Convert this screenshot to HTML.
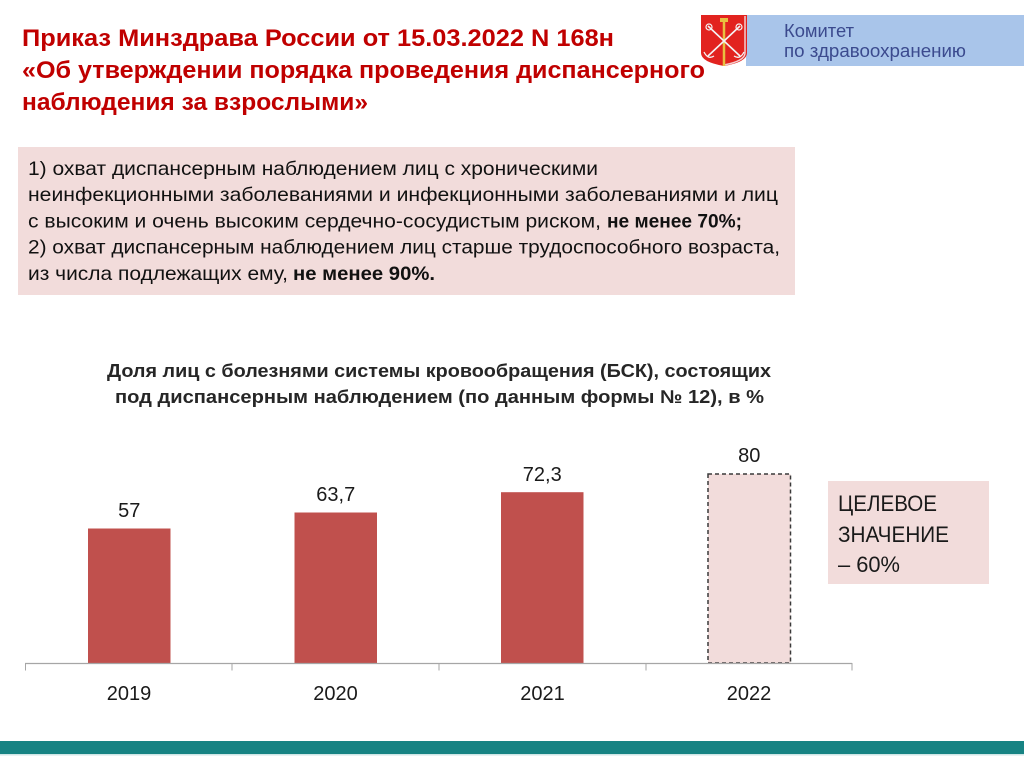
<!DOCTYPE html>
<html>
<head>
<meta charset="utf-8">
<style>
  html, body { margin: 0; padding: 0; background: #ffffff; }
  svg { display: block; }
  text { font-family: "Liberation Sans", "Noto Sans CJK SC", sans-serif; }
</style>
</head>
<body>
<svg width="1024" height="767" viewBox="0 0 1024 767" xmlns="http://www.w3.org/2000/svg">
  <rect x="0" y="0" width="1024" height="767" fill="#ffffff"/>

  <!-- Header banner -->
  <rect x="746" y="15" width="278" height="51" fill="#a9c5ea"/>
  <!-- Emblem -->
  <path d="M701,15 H747 V53 Q747,62 724,66 Q701,62 701,53 Z" fill="#e2231f"/>
  <path d="M745,16 V53 Q745,61 724,65" fill="none" stroke="#f3d0d0" stroke-width="1.5"/>
  <line x1="724" y1="19" x2="724" y2="66" stroke="#e8c040" stroke-width="2.5"/>
  <rect x="720" y="18" width="8" height="4" fill="#e8c040"/>
  <line x1="708" y1="26" x2="740" y2="56" stroke="#f4f4f4" stroke-width="1.6"/>
  <line x1="740" y1="26" x2="708" y2="56" stroke="#f4f4f4" stroke-width="1.6"/>
  <circle cx="709" cy="27" r="3" fill="none" stroke="#f4f4f4" stroke-width="1.2"/>
  <circle cx="739" cy="27" r="3" fill="none" stroke="#f4f4f4" stroke-width="1.2"/>
  <path d="M704,52 Q708,60 714,56" fill="none" stroke="#f4f4f4" stroke-width="1.3"/>
  <path d="M744,52 Q740,60 734,56" fill="none" stroke="#f4f4f4" stroke-width="1.3"/>
  <text x="784" y="37" font-size="18" fill="#3b4a8e" textLength="70" lengthAdjust="spacingAndGlyphs">Комитет</text>
  <text x="784" y="57" font-size="18" fill="#3b4a8e" textLength="182" lengthAdjust="spacingAndGlyphs">по здравоохранению</text>

  <!-- Title -->
  <text x="22" y="46" font-size="24" font-weight="bold" fill="#c00000" textLength="592" lengthAdjust="spacingAndGlyphs">Приказ Минздрава России от 15.03.2022 N 168н</text>
  <text x="22" y="78" font-size="24" font-weight="bold" fill="#c00000" textLength="683" lengthAdjust="spacingAndGlyphs">«Об утверждении порядка проведения диспансерного</text>
  <text x="22" y="110" font-size="24" font-weight="bold" fill="#c00000" textLength="346" lengthAdjust="spacingAndGlyphs">наблюдения за взрослыми»</text>

  <!-- Info box -->
  <rect x="18" y="147" width="777" height="148" fill="#f2dcdb"/>
  <text x="28" y="175" font-size="19.5" fill="#111111" textLength="570" lengthAdjust="spacingAndGlyphs">1) охват диспансерным наблюдением лиц с хроническими</text>
  <text x="28" y="201.2" font-size="19.5" fill="#111111" textLength="750" lengthAdjust="spacingAndGlyphs">неинфекционными заболеваниями и инфекционными заболеваниями и лиц</text>
  <text x="28" y="227.4" font-size="19.5" fill="#111111" textLength="573" lengthAdjust="spacingAndGlyphs">с высоким и очень высоким сердечно-сосудистым риском,</text>
  <text x="607" y="227.4" font-size="19.5" font-weight="bold" fill="#111111" textLength="135" lengthAdjust="spacingAndGlyphs">не менее 70%;</text>
  <text x="28" y="253.6" font-size="19.5" fill="#111111" textLength="752" lengthAdjust="spacingAndGlyphs">2) охват диспансерным наблюдением лиц старше трудоспособного возраста,</text>
  <text x="28" y="279.8" font-size="19.5" fill="#111111" textLength="260" lengthAdjust="spacingAndGlyphs">из числа подлежащих ему,</text>
  <text x="293" y="279.8" font-size="19.5" font-weight="bold" fill="#111111" textLength="142" lengthAdjust="spacingAndGlyphs">не менее 90%.</text>

  <!-- Chart title -->
  <text x="107" y="377" font-size="18.5" font-weight="bold" fill="#262626" textLength="664" lengthAdjust="spacingAndGlyphs">Доля лиц с болезнями системы кровообращения (БСК), состоящих</text>
  <text x="115" y="403" font-size="18.5" font-weight="bold" fill="#262626" textLength="649" lengthAdjust="spacingAndGlyphs">под диспансерным наблюдением (по данным формы № 12), в %</text>

  <!-- Bars -->
  <rect x="88" y="528.5" width="82.5" height="134.5" fill="#c0504d"/>
  <rect x="294.5" y="512.5" width="82.5" height="150.5" fill="#c0504d"/>
  <rect x="501" y="492.2" width="82.5" height="170.8" fill="#c0504d"/>
  <rect x="708" y="474" width="82.5" height="189" fill="#f2dcdb" stroke="#3a3a3a" stroke-width="1.5" stroke-dasharray="4,3"/>

  <!-- Value labels -->
  <text x="129.25" y="517" font-size="20" fill="#1a1a1a" text-anchor="middle">57</text>
  <text x="335.75" y="501" font-size="20" fill="#1a1a1a" text-anchor="middle">63,7</text>
  <text x="542.25" y="481" font-size="20" fill="#1a1a1a" text-anchor="middle">72,3</text>
  <text x="749.25" y="462" font-size="20" fill="#1a1a1a" text-anchor="middle">80</text>

  <!-- Axis -->
  <line x1="25" y1="663.5" x2="852" y2="663.5" stroke="#a6a6a6" stroke-width="1.2"/>
  <line x1="25.5" y1="663" x2="25.5" y2="670.5" stroke="#a6a6a6" stroke-width="1"/>
  <line x1="232" y1="663" x2="232" y2="670.5" stroke="#a6a6a6" stroke-width="1"/>
  <line x1="439" y1="663" x2="439" y2="670.5" stroke="#a6a6a6" stroke-width="1"/>
  <line x1="646" y1="663" x2="646" y2="670.5" stroke="#a6a6a6" stroke-width="1"/>
  <line x1="852" y1="663" x2="852" y2="670.5" stroke="#a6a6a6" stroke-width="1"/>

  <!-- Category labels -->
  <text x="129" y="700" font-size="20" fill="#1a1a1a" text-anchor="middle">2019</text>
  <text x="335.5" y="700" font-size="20" fill="#1a1a1a" text-anchor="middle">2020</text>
  <text x="542.5" y="700" font-size="20" fill="#1a1a1a" text-anchor="middle">2021</text>
  <text x="749" y="700" font-size="20" fill="#1a1a1a" text-anchor="middle">2022</text>

  <!-- Target box -->
  <rect x="828" y="481" width="161" height="103" fill="#f2dcdb"/>
  <text x="838" y="511" font-size="22" fill="#1a1a1a" textLength="99" lengthAdjust="spacingAndGlyphs">ЦЕЛЕВОЕ</text>
  <text x="838" y="542" font-size="22" fill="#1a1a1a" textLength="111" lengthAdjust="spacingAndGlyphs">ЗНАЧЕНИЕ</text>
  <text x="838" y="572" font-size="22" fill="#1a1a1a" textLength="62" lengthAdjust="spacingAndGlyphs">– 60%</text>

  <!-- Bottom teal band -->
  <rect x="0" y="741" width="1024" height="13" fill="#178383"/>
  <rect x="0" y="754" width="1024" height="1.5" fill="#cfe6e6"/>
</svg>
</body>
</html>
